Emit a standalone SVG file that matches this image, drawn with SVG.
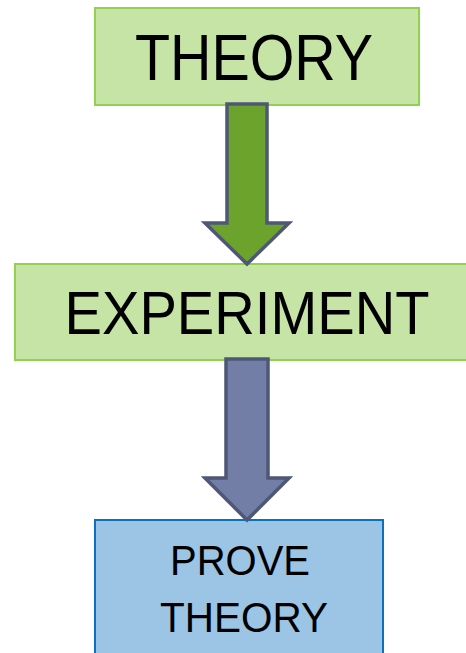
<svg xmlns="http://www.w3.org/2000/svg" width="466" height="653" viewBox="0 0 466 653">
<style>
.g{fill:#c6e4a6;stroke:#92d050;stroke-width:2}
.b{fill:#9cc4e4;stroke:#0a70c0;stroke-width:2}
.t{font-family:"Liberation Sans",Arial,sans-serif;fill:#000;text-anchor:middle}
.arr{stroke:#4e5876;stroke-width:3.5;stroke-linejoin:miter}
</style>
<rect width="466" height="653" fill="#fff"/>
<g id="theory">
<rect class="g" x="95" y="8" width="324" height="97"/>
<text class="t" x="254" y="80" font-size="65" textLength="238" lengthAdjust="spacingAndGlyphs">THEORY</text>
</g>
<g id="experiment">
<rect class="g" x="15" y="264" width="452" height="96"/>
<text class="t" x="247" y="334" font-size="61" textLength="365" lengthAdjust="spacingAndGlyphs">EXPERIMENT</text>
</g>
<g id="prove">
<rect class="b" x="95" y="520" width="288" height="140"/>
<text class="t" x="240" y="575" font-size="42" textLength="140" lengthAdjust="spacingAndGlyphs">PROVE</text>
<text class="t" x="244" y="632" font-size="42" textLength="168" lengthAdjust="spacingAndGlyphs">THEORY</text>
</g>
<g id="connectors">
<path class="arr" fill="#6ba32c" d="M227,104 H267 V223 H289 L247,264 L205,223 H227 Z"/>
<path class="arr" fill="#727ea6" d="M226,359 H268 V478 H289 L247,520 L205,478 H226 Z"/>
</g>
</svg>
